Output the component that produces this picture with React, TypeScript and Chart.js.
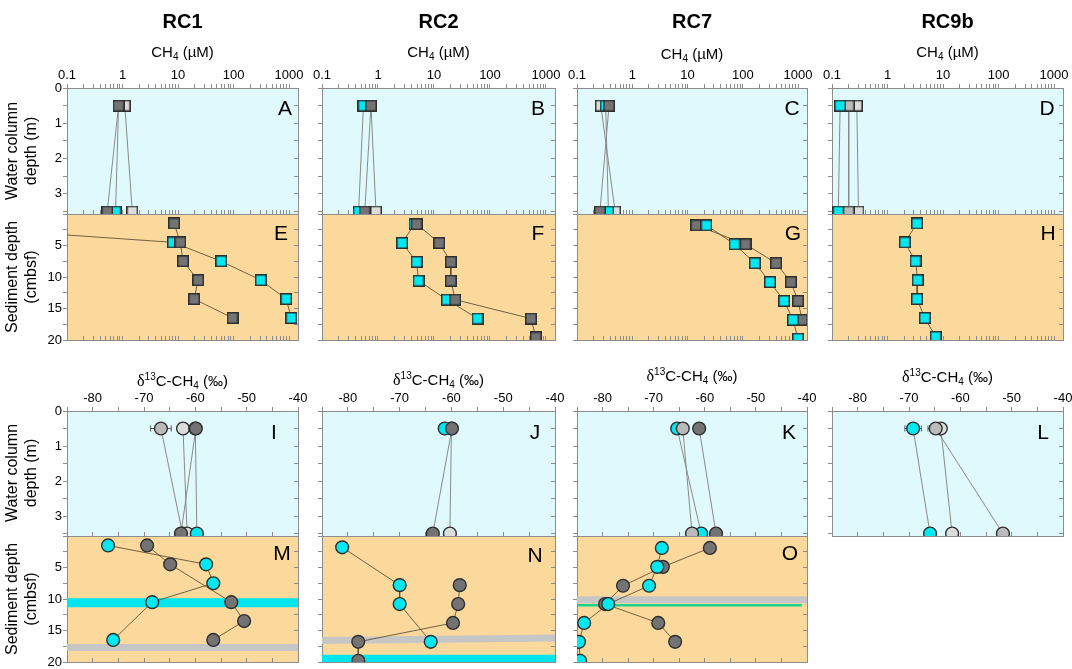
import React, { useEffect, useRef } from "react";
import { Chart, registerables } from "chart.js";
Chart.register(...registerables);

// ---------------- data ----------------
const CH4_LABELS = [0.1, 1, 10, 100, 1000];
const CH4_MIN = 0.1;
const CH4_MAX = 1450;
const D13C_LABELS = [-80, -70, -60, -50, -40];
const D13C_MIN = -85;
const D13C_MAX = -40;
const WATER_MAX = 3.57;
const SED_MAX = 20;
const WATER_DEPTH_LABELS = [0, 1, 2, 3];
const SED_DEPTH_LABELS = [5, 10, 15, 20];
const COLUMN_TITLES = ["RC1", "RC2", "RC7", "RC9b"];

const WATER_DEPTHS = [0.5, 3.5];

// RC1 CH4
const A_LIGHT = [1.1, 1.5];
const A_CYAN = [0.85, 0.75];
const A_DARK = [0.85, 0.53];
const E_DEPTHS = [1.5, 4.5, 7.5, 10.5, 13.5, 16.5];
const E_CYAN = [0.0001, 8.1, 60, 310, 890, 1100];
const E_DARK = [8.5, 11, 12.3, 23, 19.5, 96];
// RC2 CH4
const B_LIGHT = [0.75, 0.92];
const B_CYAN = [0.55, 0.45];
const B_DARK = [0.75, 0.58];
const F_DEPTHS = [1.6, 4.6, 7.6, 10.6, 13.6, 16.6, 19.6];
const F_CYAN = [4.5, 2.7, 4.9, 5.3, 17, 60, null];
const F_DARK = [4.9, 12.4, 20, 20, 24, 540, 660];
// RC7 CH4
const C_LIGHT = [0.27, 0.49];
const C_CYAN = [0.33, 0.37];
const C_DARK = [0.38, 0.26];
const G_DEPTHS = [1.8, 4.8, 7.8, 10.8, 13.8, 16.8, 19.8];
const G_CYAN = [22, 71, 165, 310, 560, 810, 1000];
const G_DARK = [14.4, 112, 400, 740, 1000, 1180, null];
// RC9b CH4
const D_LIGHT = [0.28, 0.3];
const D_MID = [0.2, 0.2];
const D_CYAN = [0.14, 0.13];
const H_DEPTHS = [1.5, 4.5, 7.5, 10.5, 13.5, 16.5, 19.5];
const H_CYAN = [3.4, 2.05, 3.2, 3.5, 3.4, 4.7, 7.4];

// RC1 d13C
const I_MID = [-66.7, -62.5];
const I_MID_ERR = [2, null];
const I_LIGHT = [-62.4, -61.6];
const I_CYAN = [-60, -59.7];
const I_DARK = [-59.9, -62.8];
const M_DEPTHS = [1.5, 4.5, 7.5, 10.5, 13.5, 16.5];
const M_CYAN = [-77.0, -57.9, -56.5, -68.4, null, -76.0];
const M_DARK = [-69.4, -64.9, null, -53.0, -50.5, -56.5];
// RC2 d13C
const J_LIGHT = [-60, -60.3];
const J_CYAN = [-61.3, null];
const J_DARK = [-59.9, -63.6];
const N_DEPTHS = [1.8, 4.8, 7.8, 10.8, 13.8, 16.8, 19.8];
const N_CYAN = [-81.1, null, -70.0, -70.0, null, -64.0, null];
const N_DARK = [null, null, -58.4, -58.7, -59.7, -78.0, -78.0];
// RC7 d13C
const K_MID = [-64.3, -62.5];
const K_CYAN = [-65.4, -60.7];
const K_DARK = [-61.1, -57.8];
const O_DEPTHS = [1.9, 4.9, 7.9, 10.8, 13.8, 16.8, 19.8];
const O_CYAN = [-68.4, -69.3, -70.9, -78.9, -83.6, -84.6, -84.4];
const O_DARK = [-59.0, -68.2, -76.0, -79.5, -69.1, -65.8, null];
// RC9b d13C
const L_LIGHT = [-63.8, -61.6];
const L_MID = [-64.8, -51.7];
const L_MID_ERR = [1.5, null];
const L_CYAN = [-69.2, -65.9];
const L_CYAN_ERR = [1.6, null];

// horizontal bands (depth in cmbsf)
const M_CYAN_BAND = [10.6, 10.6];
const M_GRAY_BAND = [17.7, 17.7];
const N_GRAY_BAND = [16.6, 16.2];
const N_CYAN_BAND = [19.5, 19.5];
const O_GRAY_BAND = [10.1, 10.1];
const O_GREEN_BAND = [11.0, 11.0];

// ---------------- styles / layout ----------------
const FONT = "'Liberation Sans', Arial, Helvetica, sans-serif";
const PAGE_W = 1072;
const PAGE_H = 669;
const MARGIN = 60;
const CW = PAGE_W + 2 * MARGIN;
const CH = PAGE_H + 2 * MARGIN;

const DARK = "#737373";
const MID = "#bababa";
const LIGHT = "#dcdcdc";
const CYAN = "#00e8f0";
const WATER_BG = "#e0f9fc";
const SED_BG = "#fbd99c";
const AXIS_COLOR = "#8c8c8c";
const WATER_LINE = "#8a8a8a";
const SED_LINE = "rgba(90,75,45,0.85)";
const MARK_BORDER = "#2e2e2e";
const BAND_CYAN = "#00e5ee";
const BAND_GRAY = "#c6c6c6";
const BAND_GREEN = "#19d28c";
const SQUARE_SIZE = 12;

const COLS = [
  { l: 67, r: 298 },
  { l: 322, r: 555 },
  { l: 577, r: 807 },
  { l: 832, r: 1063 },
];
const ROWS: Record<string, { t: number; b: number }> = {
  topW: { t: 88, b: 214 },
  topS: { t: 214, b: 340 },
  botW: { t: 411, b: 536 },
  botS: { t: 536, b: 662 },
};

const LOG_TICKS: number[] = [];
for (let e = -1; e <= 3; e++) {
  for (let k = 1; k <= 9; k++) {
    const v = parseFloat((k * Math.pow(10, e)).toPrecision(3));
    if (v <= CH4_MAX) LOG_TICKS.push(v);
  }
}
const LIN_X_TICKS: number[] = [];
for (let v = D13C_MIN; v <= D13C_MAX; v += 5) LIN_X_TICKS.push(v);
const WATER_TICKS: number[] = [];
for (let v = 0; v <= 3.5; v += 0.5) WATER_TICKS.push(v);
const SED_TICKS: number[] = [];
for (let v = 0; v <= 20; v += 2.5) SED_TICKS.push(v);

type Series = {
  vals: (number | null)[];
  depths: number[];
  color: string;
  err?: (number | null)[];
};
type Band = { d: number[]; color: string; width: number; x0?: number; x1?: number };
type PanelSpec = {
  col: number;
  row: string;
  letter: string;
  lx: number;
  ly: number;
  series: Series[];
  bands?: Band[];
};

const PANELS: PanelSpec[] = [
  { col: 0, row: "topW", letter: "A", lx: 285, ly: 108, series: [
    { vals: A_LIGHT, depths: WATER_DEPTHS, color: LIGHT },
    { vals: A_CYAN, depths: WATER_DEPTHS, color: CYAN },
    { vals: A_DARK, depths: WATER_DEPTHS, color: DARK },
  ] },
  { col: 1, row: "topW", letter: "B", lx: 538, ly: 108, series: [
    { vals: B_LIGHT, depths: WATER_DEPTHS, color: LIGHT },
    { vals: B_CYAN, depths: WATER_DEPTHS, color: CYAN },
    { vals: B_DARK, depths: WATER_DEPTHS, color: DARK },
  ] },
  { col: 2, row: "topW", letter: "C", lx: 792, ly: 108, series: [
    { vals: C_LIGHT, depths: WATER_DEPTHS, color: LIGHT },
    { vals: C_CYAN, depths: WATER_DEPTHS, color: CYAN },
    { vals: C_DARK, depths: WATER_DEPTHS, color: DARK },
  ] },
  { col: 3, row: "topW", letter: "D", lx: 1047, ly: 108, series: [
    { vals: D_LIGHT, depths: WATER_DEPTHS, color: LIGHT },
    { vals: D_MID, depths: WATER_DEPTHS, color: MID },
    { vals: D_CYAN, depths: WATER_DEPTHS, color: CYAN },
  ] },
  { col: 0, row: "topS", letter: "E", lx: 281, ly: 233, series: [
    { vals: E_CYAN, depths: E_DEPTHS, color: CYAN },
    { vals: E_DARK, depths: E_DEPTHS, color: DARK },
  ] },
  { col: 1, row: "topS", letter: "F", lx: 538, ly: 233, series: [
    { vals: F_CYAN, depths: F_DEPTHS, color: CYAN },
    { vals: F_DARK, depths: F_DEPTHS, color: DARK },
  ] },
  { col: 2, row: "topS", letter: "G", lx: 793, ly: 233, series: [
    { vals: G_DARK, depths: G_DEPTHS, color: DARK },
    { vals: G_CYAN, depths: G_DEPTHS, color: CYAN },
  ] },
  { col: 3, row: "topS", letter: "H", lx: 1048, ly: 233, series: [
    { vals: H_CYAN, depths: H_DEPTHS, color: CYAN },
  ] },
  { col: 0, row: "botW", letter: "I", lx: 274, ly: 432, series: [
    { vals: I_MID, depths: WATER_DEPTHS, color: MID, err: I_MID_ERR },
    { vals: I_LIGHT, depths: WATER_DEPTHS, color: LIGHT },
    { vals: I_CYAN, depths: WATER_DEPTHS, color: CYAN },
    { vals: I_DARK, depths: WATER_DEPTHS, color: DARK },
  ] },
  { col: 1, row: "botW", letter: "J", lx: 535, ly: 432, series: [
    { vals: J_LIGHT, depths: WATER_DEPTHS, color: LIGHT },
    { vals: J_CYAN, depths: WATER_DEPTHS, color: CYAN },
    { vals: J_DARK, depths: WATER_DEPTHS, color: DARK },
  ] },
  { col: 2, row: "botW", letter: "K", lx: 789, ly: 432, series: [
    { vals: K_CYAN, depths: WATER_DEPTHS, color: CYAN },
    { vals: K_MID, depths: WATER_DEPTHS, color: MID },
    { vals: K_DARK, depths: WATER_DEPTHS, color: DARK },
  ] },
  { col: 3, row: "botW", letter: "L", lx: 1043, ly: 432, series: [
    { vals: L_LIGHT, depths: WATER_DEPTHS, color: LIGHT },
    { vals: L_MID, depths: WATER_DEPTHS, color: MID, err: L_MID_ERR },
    { vals: L_CYAN, depths: WATER_DEPTHS, color: CYAN, err: L_CYAN_ERR },
  ] },
  { col: 0, row: "botS", letter: "M", lx: 282, ly: 553, series: [
    { vals: M_CYAN, depths: M_DEPTHS, color: CYAN },
    { vals: M_DARK, depths: M_DEPTHS, color: DARK },
  ], bands: [
    { d: M_CYAN_BAND, color: BAND_CYAN, width: 9 },
    { d: M_GRAY_BAND, color: BAND_GRAY, width: 7 },
  ] },
  { col: 1, row: "botS", letter: "N", lx: 535, ly: 555, series: [
    { vals: N_CYAN, depths: N_DEPTHS, color: CYAN },
    { vals: N_DARK, depths: N_DEPTHS, color: DARK },
  ], bands: [
    { d: N_GRAY_BAND, color: BAND_GRAY, width: 7 },
    { d: N_CYAN_BAND, color: BAND_CYAN, width: 8 },
  ] },
  { col: 2, row: "botS", letter: "O", lx: 790, ly: 553, series: [
    { vals: O_DARK, depths: O_DEPTHS, color: DARK },
    { vals: O_CYAN, depths: O_DEPTHS, color: CYAN },
  ], bands: [
    { d: O_GRAY_BAND, color: BAND_GRAY, width: 7 },
    { d: O_GREEN_BAND, color: BAND_GREEN, width: 2.5, x1: -41 },
  ] },
];

const squareCache: Record<string, HTMLCanvasElement> = {};
function squareMarker(color: string): HTMLCanvasElement {
  if (squareCache[color]) return squareCache[color];
  const c = document.createElement("canvas");
  c.width = SQUARE_SIZE;
  c.height = SQUARE_SIZE;
  const ctx = c.getContext("2d") as CanvasRenderingContext2D;
  ctx.fillStyle = MARK_BORDER;
  ctx.fillRect(0, 0, SQUARE_SIZE, SQUARE_SIZE);
  ctx.fillStyle = color;
  ctx.fillRect(1.5, 1.5, SQUARE_SIZE - 3, SQUARE_SIZE - 3);
  squareCache[color] = c;
  return c;
}

function toPoints(vals: (number | null)[], depths: number[]) {
  const out: { x: number; y: number }[] = [];
  depths.forEach((d, i) => {
    const v = vals[i];
    if (v !== null && v !== undefined) out.push({ x: v, y: d });
  });
  return out;
}

function buildConfig(p: PanelSpec): any {
  const rect = { l: COLS[p.col].l, r: COLS[p.col].r, t: ROWS[p.row].t, b: ROWS[p.row].b };
  const isCH4 = p.row.startsWith("top");
  const isWater = p.row.endsWith("W");
  const labeledY = p.col === 0;
  const xType = isCH4 ? "logarithmic" : "linear";
  const xMin = isCH4 ? CH4_MIN : D13C_MIN;
  const xMax = isCH4 ? CH4_MAX : D13C_MAX;
  const xTicks = isCH4 ? LOG_TICKS : LIN_X_TICKS;
  const xLabels = isCH4 ? CH4_LABELS : D13C_LABELS;
  const yMax = isWater ? WATER_MAX : SED_MAX;
  const yTicks = isWater ? WATER_TICKS : SED_TICKS;
  const yLabels = isWater ? WATER_DEPTH_LABELS : SED_DEPTH_LABELS;

  const topH = isWater ? 20 : 0;
  const leftW = labeledY ? 24 : 4;
  const padding = {
    left: rect.l + MARGIN - leftW,
    top: rect.t + MARGIN - topH,
    right: CW - (rect.r + MARGIN),
    bottom: CH - (rect.b + MARGIN),
  };

  const tickFont = { family: FONT, size: 13 };
  const setX = (s: any) => { s.ticks = xTicks.map((v) => ({ value: v })); };
  const setY = (s: any) => { s.ticks = yTicks.map((v) => ({ value: v })); };
  const xBase = { type: xType, min: xMin, max: xMax, afterBuildTicks: setX };
  const yBase = { type: "linear", reverse: true, min: 0, max: yMax, afterBuildTicks: setY };
  const border = { display: true, color: AXIS_COLOR, width: 1 };

  const scales: any = {
    x: {
      ...xBase,
      axis: "x",
      position: isWater ? "top" : "bottom",
      afterFit: (s: any) => { s.height = topH; },
      border,
      grid: { drawOnChartArea: false, tickLength: isWater ? 4 : -4, color: AXIS_COLOR, tickColor: AXIS_COLOR },
      ticks: {
        display: isWater,
        autoSkip: false,
        maxRotation: 0,
        minRotation: 0,
        padding: 1,
        font: tickFont,
        color: "#000",
        callback: (v: any) => (xLabels.includes(v) ? String(v) : ""),
      },
    },
    x2: {
      ...xBase,
      axis: "x",
      position: isWater ? "bottom" : "top",
      afterFit: (s: any) => { s.height = 0; },
      border,
      grid: { drawOnChartArea: false, drawTicks: isWater, tickLength: -4, color: AXIS_COLOR, tickColor: AXIS_COLOR },
      ticks: { display: false, autoSkip: false },
    },
    y: {
      ...yBase,
      axis: "y",
      position: "left",
      afterFit: (s: any) => { s.width = leftW; },
      border,
      grid: { drawOnChartArea: false, tickLength: 4, color: AXIS_COLOR, tickColor: AXIS_COLOR },
      ticks: {
        display: labeledY,
        autoSkip: false,
        padding: 1,
        font: tickFont,
        color: "#000",
        callback: (v: any) => (yLabels.includes(v) ? String(v) : ""),
      },
    },
    y2: {
      ...yBase,
      axis: "y",
      position: "right",
      afterFit: (s: any) => { s.width = 0; },
      border,
      grid: { drawOnChartArea: false, tickLength: -4, color: AXIS_COLOR, tickColor: AXIS_COLOR },
      ticks: { display: false, autoSkip: false },
    },
  };

  // Chart.js draws higher "order" first (underneath)
  const datasets: any[] = [];
  (p.bands || []).forEach((b, bi) => {
    datasets.push({
      order: 1000 - bi,
      data: [
        { x: b.x0 !== undefined ? b.x0 : xMin, y: b.d[0] },
        { x: b.x1 !== undefined ? b.x1 : xMax, y: b.d[1] },
      ],
      showLine: true,
      borderColor: b.color,
      borderWidth: b.width,
      borderCapStyle: "butt",
      pointRadius: 0,
      clip: 0,
      xAxisID: "x",
      yAxisID: "y",
    });
  });
  p.series.forEach((s, si) => {
    datasets.push({
      order: 500 - si,
      data: toPoints(s.vals, s.depths),
      showLine: true,
      borderColor: isWater ? WATER_LINE : SED_LINE,
      borderWidth: 1,
      pointRadius: 0,
      tension: 0,
      clip: 0,
      xAxisID: "x",
      yAxisID: "y",
    });
  });
  p.series.forEach((s, si) => {
    datasets.push({
      order: 100 - si,
      data: toPoints(s.vals, s.depths),
      showLine: false,
      pointStyle: isCH4 ? squareMarker(s.color) : "circle",
      pointRadius: isCH4 ? SQUARE_SIZE / 2 : 6.4,
      backgroundColor: s.color,
      borderColor: MARK_BORDER,
      borderWidth: 1.4,
      clip: 0,
      xAxisID: "x",
      yAxisID: "y",
    });
  });

  const bgPlugin = {
    id: "bgFill" + p.letter,
    beforeDraw(chart: any) {
      const a = chart.chartArea;
      const ctx = chart.ctx;
      ctx.save();
      ctx.fillStyle = isWater ? WATER_BG : SED_BG;
      ctx.fillRect(a.left, a.top, a.right - a.left, a.bottom - a.top);
      ctx.restore();
    },
  };
  const errPlugin = {
    id: "errBars" + p.letter,
    beforeDatasetsDraw(chart: any) {
      const ctx = chart.ctx;
      const xs = chart.scales.x;
      const ys = chart.scales.y;
      ctx.save();
      ctx.strokeStyle = "#555";
      ctx.lineWidth = 1;
      p.series.forEach((s) => {
        if (!s.err) return;
        s.depths.forEach((d, i) => {
          const e = s.err![i];
          const v = s.vals[i];
          if (e == null || v == null) return;
          const y = ys.getPixelForValue(d);
          const x0 = xs.getPixelForValue(v - e);
          const x1 = xs.getPixelForValue(v + e);
          ctx.beginPath();
          ctx.moveTo(x0, y); ctx.lineTo(x1, y);
          ctx.moveTo(x0, y - 3); ctx.lineTo(x0, y + 3);
          ctx.moveTo(x1, y - 3); ctx.lineTo(x1, y + 3);
          ctx.stroke();
        });
      });
      ctx.restore();
    },
  };

  return {
    type: "scatter",
    data: { datasets },
    options: {
      responsive: false,
      maintainAspectRatio: false,
      animation: false,
      devicePixelRatio: 1,
      events: [],
      layout: { padding, autoPadding: false },
      plugins: { legend: { display: false }, tooltip: { enabled: false } },
      scales,
    },
    plugins: [bgPlugin, errPlugin],
  };
}

function Panel({ spec }: { spec: PanelSpec }) {
  const ref = useRef<HTMLCanvasElement>(null);
  useEffect(() => {
    const chart = new Chart(ref.current as HTMLCanvasElement, buildConfig(spec));
    return () => chart.destroy();
  }, [spec]);
  return (
    <canvas
      ref={ref}
      width={CW}
      height={CH}
      style={{ position: "absolute", left: -MARGIN, top: -MARGIN, width: CW, height: CH, pointerEvents: "none" }}
    />
  );
}

const centered = (x: number, y: number): React.CSSProperties => ({
  position: "absolute",
  left: x,
  top: y,
  transform: "translate(-50%, -50%)",
  whiteSpace: "nowrap",
});

const CH4_TITLE_Y = [52, 52, 54, 52];
const D13C_TITLE_Y = [381, 380, 376, 377];
const ROW_LABELS = [
  { y: 151, lines: ["Water column", "depth (m)"] },
  { y: 277, lines: ["Sediment depth", "(cmbsf)"] },
  { y: 473, lines: ["Water column", "depth (m)"] },
  { y: 599, lines: ["Sediment depth", "(cmbsf)"] },
];

export default function App() {
  return (
    <div
      style={{
        position: "absolute",
        left: 0,
        top: 0,
        width: PAGE_W,
        height: PAGE_H,
        overflow: "hidden",
        background: "#fff",
        fontFamily: FONT,
        color: "#000",
      }}
    >
      {PANELS.map((p) => (
        <Panel key={p.letter} spec={p} />
      ))}
      {COLUMN_TITLES.map((t, i) => (
        <div key={t} style={{ ...centered((COLS[i].l + COLS[i].r) / 2, 21), fontWeight: "bold", fontSize: 20 }}>
          {t}
        </div>
      ))}
      {COLS.map((c, i) => (
        <div key={"ch4" + i} style={{ ...centered((c.l + c.r) / 2, CH4_TITLE_Y[i]), fontSize: 15 }}>
          CH<sub style={{ fontSize: 10, verticalAlign: "-3px" }}>4</sub> (µM)
        </div>
      ))}
      {COLS.map((c, i) => (
        <div key={"d13" + i} style={{ ...centered((c.l + c.r) / 2, D13C_TITLE_Y[i]), fontSize: 15 }}>
          <span style={{ fontFamily: "'Liberation Serif', serif", fontSize: 16 }}>δ</span>
          <sup style={{ fontSize: 10, verticalAlign: "6px" }}>13</sup>C-CH
          <sub style={{ fontSize: 10, verticalAlign: "-3px" }}>4</sub> (‰)
        </div>
      ))}
      {ROW_LABELS.map((r, i) => (
        <div
          key={"row" + i}
          style={{
            ...centered(21, r.y),
            transform: "translate(-50%, -50%) rotate(-90deg)",
            fontSize: 16,
            lineHeight: "19px",
            textAlign: "center",
          }}
        >
          {r.lines[0]}
          <br />
          {r.lines[1]}
        </div>
      ))}
      {PANELS.map((p) => (
        <div key={"lt" + p.letter} style={{ ...centered(p.lx, p.ly), fontSize: 21 }}>
          {p.letter}
        </div>
      ))}
    </div>
  );
}
